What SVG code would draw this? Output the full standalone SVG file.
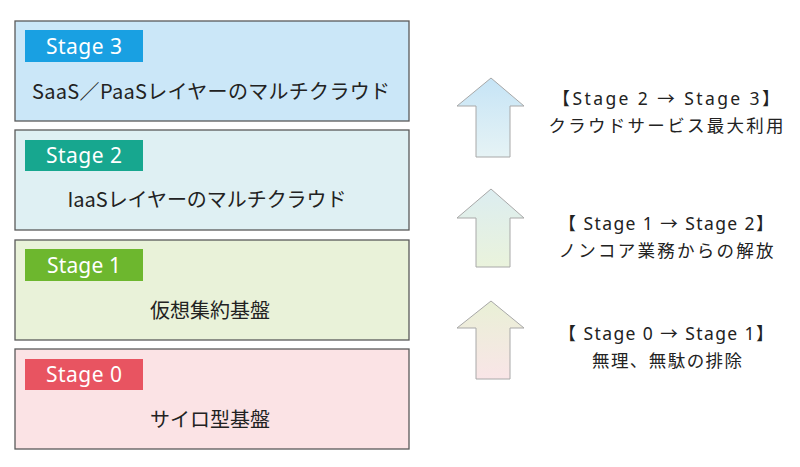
<svg xmlns="http://www.w3.org/2000/svg" width="800" height="467" viewBox="0 0 800 467">
<style>
.box{stroke:#5a5a5a;stroke-width:1.3}
.lbl{fill:#fff;font-family:"Noto Sans","Noto Sans CJK JP",sans-serif;font-size:21px;text-anchor:middle}
.main{fill:#222;font-family:"Noto Sans CJK JP",sans-serif;font-size:20px;text-anchor:middle}
.side{fill:#222;font-family:"Noto Sans CJK JP",sans-serif;font-size:17.5px;text-anchor:middle}
.lat{font-family:"Noto Sans","Noto Sans CJK JP",sans-serif}
.arrow{stroke:#a8a8a8;stroke-width:1}
</style>
<defs>
<linearGradient id="g3" x1="0" y1="0" x2="0" y2="1"><stop offset="0" stop-color="#c6e4f6"/><stop offset="1" stop-color="#e6f3f5"/></linearGradient>
<linearGradient id="g2" x1="0" y1="0" x2="0" y2="1"><stop offset="0" stop-color="#dcedf0"/><stop offset="1" stop-color="#eaf3dc"/></linearGradient>
<linearGradient id="g1" x1="0" y1="0" x2="0" y2="1"><stop offset="0" stop-color="#e9f0d6"/><stop offset="1" stop-color="#f9e5e7"/></linearGradient>
</defs>
<rect width="800" height="467" fill="#fff"/>
<g id="stage3">
<rect class="box" x="15" y="21" width="394" height="100" fill="#cbe7f8"/>
<rect x="25" y="30" width="118" height="32" fill="#19a0e2"/>
<text class="lbl" x="84" y="54" textLength="76">Stage 3</text>
<text class="main" x="211" y="99" textLength="358">SaaS／PaaSレイヤーのマルチクラウド</text>
</g>
<g id="stage2">
<rect class="box" x="15" y="130" width="394" height="100" fill="#dff0f3"/>
<rect x="25" y="140" width="118" height="31" fill="#17a78f"/>
<text class="lbl" x="84" y="163" textLength="76">Stage 2</text>
<text class="main" x="207" y="207" textLength="279">IaaSレイヤーのマルチクラウド</text>
</g>
<g id="stage1">
<rect class="box" x="15" y="240" width="394" height="100" fill="#e9f2d9"/>
<rect x="25" y="249" width="118" height="32" fill="#6db72e"/>
<text class="lbl" x="84" y="273" textLength="74">Stage 1</text>
<text class="main" x="210" y="318">仮想集約基盤</text>
</g>
<g id="stage0">
<rect class="box" x="15" y="349" width="394" height="100" fill="#fbe3e5"/>
<rect x="25" y="359" width="118" height="31" fill="#e85461"/>
<text class="lbl" x="84" y="382" textLength="76">Stage 0</text>
<text class="main" x="210" y="427">サイロ型基盤</text>
</g>
<g id="connectors">
<path class="arrow" fill="url(#g3)" d="M491,78 L524,106 L510,106 L510,157 L476,157 L476,106 L457,106 Z"/>
<path class="arrow" fill="url(#g2)" d="M491,189 L524,218 L510,218 L510,267 L476,267 L476,218 L457,218 Z"/>
<path class="arrow" fill="url(#g1)" d="M491,301 L524,328 L510,328 L510,379 L476,379 L476,328 L457,328 Z"/>
</g>
<g id="t23">
<text class="side lat" x="666" y="105" textLength="227">【Stage 2 → Stage 3】</text>
<text class="side" x="666" y="132" textLength="235">クラウドサービス最大利用</text>
</g>
<g id="t12">
<text class="side lat" x="666" y="230" textLength="215">【 Stage 1 → Stage 2】</text>
<text class="side" x="666" y="257" textLength="215">ノンコア業務からの解放</text>
</g>
<g id="t01">
<text class="side lat" x="666" y="340" textLength="215">【 Stage 0 → Stage 1】</text>
<text class="side" x="667" y="367" textLength="150">無理、無駄の排除</text>
</g>
</svg>
